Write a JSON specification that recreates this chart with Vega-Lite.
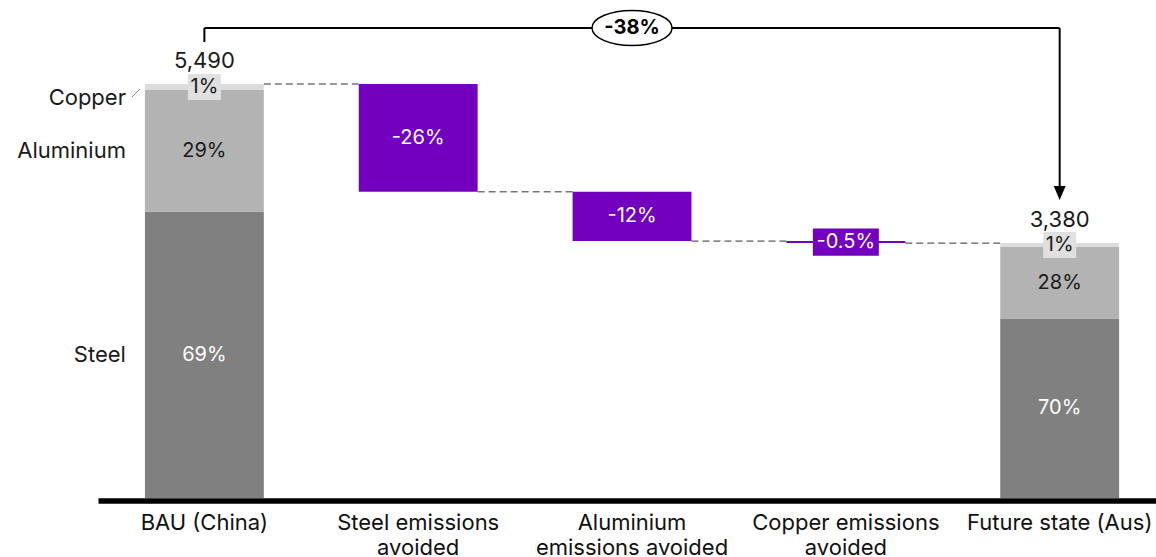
{
  "$schema": "https://vega.github.io/schema/vega-lite/v6.json",
  "width": 1058,
  "height": 498,
  "autosize": {"type": "none"},
  "padding": {"left": 98, "right": 0, "top": 0, "bottom": 59},
  "config": {
    "view": {"stroke": null},
    "font": "Inter",
    "text": {"font": "Inter", "fontSize": 20},
    "axisX": {
      "orient": "bottom",
      "ticks": false,
      "grid": false,
      "domainColor": "#000000",
      "domainWidth": 5.5,
      "offset": 2.5,
      "labelAngle": 0,
      "labelFont": "Inter",
      "labelFontSize": 22,
      "labelColor": "#111111",
      "labelPadding": 12,
      "labelLineHeight": 25,
      "labelLimit": 400,
      "labelOverlap": false,
      "labelExpr": "split(datum.label, '|')"
    }
  },
  "datasets": {
    "segments": [
      {"cat": "BAU (China)", "part": "Steel", "start": 0, "end": 3800, "pct": "69%"},
      {"cat": "BAU (China)", "part": "Aluminium", "start": 3800, "end": 5410, "pct": "29%"},
      {"cat": "BAU (China)", "part": "Copper", "start": 5410, "end": 5490, "pct": "1%"},
      {"cat": "Steel emissions|avoided", "part": "Avoided", "start": 4060, "end": 5490, "pct": "-26%"},
      {"cat": "Aluminium|emissions avoided", "part": "Avoided", "start": 3407, "end": 4060, "pct": "-12%"},
      {"cat": "Copper emissions|avoided", "part": "Avoided", "start": 3380, "end": 3407, "pct": "-0.5%"},
      {"cat": "Future state (Aus)", "part": "Steel", "start": 0, "end": 2380, "pct": "70%"},
      {"cat": "Future state (Aus)", "part": "Aluminium", "start": 2380, "end": 3330, "pct": "28%"},
      {"cat": "Future state (Aus)", "part": "Copper", "start": 3330, "end": 3380, "pct": "1%"}
    ],
    "totals": [
      {"cat": "BAU (China)", "total": 5490},
      {"cat": "Future state (Aus)", "total": 3380}
    ],
    "connectors": [
      {"cat": "BAU (China)", "next": "Steel emissions|avoided", "level": 5490},
      {"cat": "Steel emissions|avoided", "next": "Aluminium|emissions avoided", "level": 4060},
      {"cat": "Aluminium|emissions avoided", "next": "Copper emissions|avoided", "level": 3407},
      {"cat": "Copper emissions|avoided", "next": "Future state (Aus)", "level": 3380}
    ],
    "bracket": [
      {"cat": "BAU (China)", "end": "Future state (Aus)", "top": 6233, "bottom": 6233},
      {"cat": "BAU (China)", "end": "BAU (China)", "top": 6233, "bottom": 6047},
      {"cat": "Future state (Aus)", "end": "Future state (Aus)", "top": 6233, "bottom": 4100}
    ],
    "change": [
      {"cat": "Aluminium|emissions avoided", "level": 6233, "label": "-38%"}
    ],
    "arrowhead": [
      {"cat": "Future state (Aus)", "level": 4045}
    ]
  },
  "layer": [
    {
      "data": {"name": "connectors"},
      "mark": {"type": "rule", "strokeDash": [7, 4], "color": "#333333", "strokeWidth": 1},
      "encoding": {
        "x": {
          "field": "cat",
          "type": "nominal",
          "title": null,
          "bandPosition": 1,
          "scale": {
            "domain": ["BAU (China)", "Steel emissions|avoided", "Aluminium|emissions avoided", "Copper emissions|avoided", "Future state (Aus)"],
            "paddingInner": 0.444,
            "paddingOuter": 0.196,
            "align": 0.56
          }
        },
        "x2": {"field": "next", "bandPosition": 0},
        "y": {"field": "level", "type": "quantitative", "scale": {"domain": [0, 6604], "nice": false, "zero": true}, "axis": null}
      }
    },
    {
      "data": {"name": "segments"},
      "mark": {"type": "bar"},
      "encoding": {
        "x": {"field": "cat", "type": "nominal", "title": null},
        "y": {"field": "start", "type": "quantitative", "axis": null},
        "y2": {"field": "end"},
        "color": {
          "field": "part",
          "type": "nominal",
          "scale": {"domain": ["Steel", "Aluminium", "Copper", "Avoided"], "range": ["#808080", "#b3b3b3", "#dcdcdc", "#7300bf"]},
          "legend": null
        }
      }
    },
    {
      "data": {"name": "segments"},
      "transform": [
        {"filter": "datum.part === 'Copper'"},
        {"calculate": "(datum.start + datum.end) / 2", "as": "mid"}
      ],
      "mark": {"type": "point", "shape": "M-1,-0.79L1,-0.79L1,0.79L-1,0.79Z", "size": 1089, "filled": true, "fill": "#e0e0e0", "opacity": 1, "strokeWidth": 0},
      "encoding": {
        "x": {"field": "cat", "type": "nominal", "title": null},
        "y": {"field": "mid", "type": "quantitative", "axis": null}
      }
    },
    {
      "data": {"name": "segments"},
      "transform": [
        {"filter": "datum.cat === 'Copper emissions|avoided'"},
        {"calculate": "(datum.start + datum.end) / 2", "as": "mid"}
      ],
      "mark": {"type": "point", "shape": "M-1,-0.41L1,-0.41L1,0.41L-1,0.41Z", "size": 4356, "filled": true, "fill": "#7300bf", "opacity": 1, "strokeWidth": 0},
      "encoding": {
        "x": {"field": "cat", "type": "nominal", "title": null},
        "y": {"field": "mid", "type": "quantitative", "axis": null}
      }
    },
    {
      "data": {"name": "segments"},
      "transform": [
        {"calculate": "(datum.start + datum.end) / 2", "as": "mid"}
      ],
      "mark": {"type": "text", "fontSize": 20, "baseline": "middle", "align": "center"},
      "encoding": {
        "x": {"field": "cat", "type": "nominal", "title": null},
        "y": {"field": "mid", "type": "quantitative", "axis": null},
        "text": {"field": "pct"},
        "color": {
          "condition": {"test": "datum.part === 'Aluminium' || datum.part === 'Copper'", "value": "#1a1a1a"},
          "value": "#ffffff"
        }
      }
    },
    {
      "data": {"name": "segments"},
      "transform": [
        {"filter": "datum.cat === 'BAU (China)' && datum.part !== 'Copper'"},
        {"calculate": "(datum.start + datum.end) / 2", "as": "mid"}
      ],
      "mark": {"type": "text", "fontSize": 22, "baseline": "middle", "align": "right", "dx": -19, "color": "#1a1a1a"},
      "encoding": {
        "x": {"field": "cat", "type": "nominal", "title": null, "bandPosition": 0},
        "y": {"field": "mid", "type": "quantitative", "axis": null},
        "text": {"field": "part"}
      }
    },
    {
      "data": {"name": "segments"},
      "transform": [
        {"filter": "datum.cat === 'BAU (China)' && datum.part === 'Copper'"},
        {"calculate": "(datum.start + datum.end) / 2", "as": "mid"}
      ],
      "mark": {"type": "text", "fontSize": 22, "baseline": "middle", "align": "right", "dx": -19, "dy": 11, "color": "#1a1a1a"},
      "encoding": {
        "x": {"field": "cat", "type": "nominal", "title": null, "bandPosition": 0},
        "y": {"field": "mid", "type": "quantitative", "axis": null},
        "text": {"field": "part"}
      }
    },
    {
      "data": {"name": "segments"},
      "transform": [
        {"filter": "datum.cat === 'BAU (China)' && datum.part === 'Copper'"},
        {"calculate": "(datum.start + datum.end) / 2", "as": "mid"}
      ],
      "mark": {"type": "point", "shape": "M-1,1L1,-1", "size": 64, "filled": false, "stroke": "#888888", "strokeWidth": 1, "opacity": 1, "xOffset": -9, "yOffset": 6},
      "encoding": {
        "x": {"field": "cat", "type": "nominal", "title": null, "bandPosition": 0},
        "y": {"field": "mid", "type": "quantitative", "axis": null}
      }
    },
    {
      "data": {"name": "totals"},
      "mark": {"type": "text", "fontSize": 22, "baseline": "alphabetic", "align": "center", "dy": -16, "color": "#1a1a1a"},
      "encoding": {
        "x": {"field": "cat", "type": "nominal", "title": null},
        "y": {"field": "total", "type": "quantitative", "axis": null},
        "text": {"field": "total", "type": "quantitative", "format": ","}
      }
    },
    {
      "data": {"name": "bracket"},
      "mark": {"type": "rule", "color": "#000000", "strokeWidth": 2},
      "encoding": {
        "x": {"field": "cat", "type": "nominal", "title": null},
        "x2": {"field": "end"},
        "y": {"field": "top", "type": "quantitative", "axis": null},
        "y2": {"field": "bottom"}
      }
    },
    {
      "data": {"name": "arrowhead"},
      "mark": {"type": "point", "shape": "M-0.85,-1L0.85,-1L0,1Z", "size": 196, "filled": true, "color": "#000000", "opacity": 1},
      "encoding": {
        "x": {"field": "cat", "type": "nominal", "title": null},
        "y": {"field": "level", "type": "quantitative", "axis": null}
      }
    },
    {
      "data": {"name": "change"},
      "mark": {"type": "point", "shape": "M-1,0C-1,-0.243 -0.5523,-0.44 0,-0.44C0.5523,-0.44 1,-0.243 1,0C1,0.243 0.5523,0.44 0,0.44C-0.5523,0.44 -1,0.243 -1,0Z", "size": 6400, "filled": true, "fill": "#ffffff", "stroke": "#000000", "strokeWidth": 1.5, "opacity": 1},
      "encoding": {
        "x": {"field": "cat", "type": "nominal", "title": null},
        "y": {"field": "level", "type": "quantitative", "axis": null}
      }
    },
    {
      "data": {"name": "change"},
      "mark": {"type": "text", "fontSize": 20, "fontWeight": "bold", "baseline": "middle", "align": "center", "color": "#000000"},
      "encoding": {
        "x": {"field": "cat", "type": "nominal", "title": null},
        "y": {"field": "level", "type": "quantitative", "axis": null},
        "text": {"field": "label"}
      }
    }
  ]
}
